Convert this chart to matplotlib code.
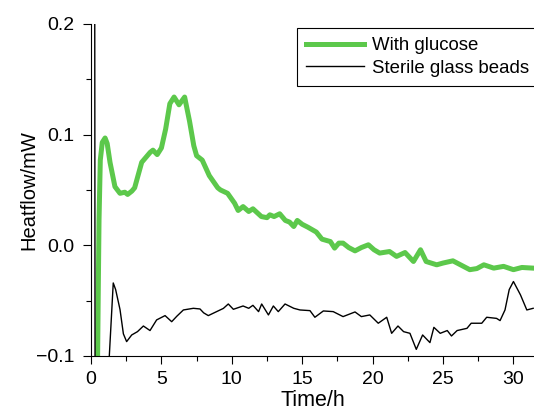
import numpy as np
import matplotlib
matplotlib.use("Agg")
import matplotlib.pyplot as plt
from matplotlib.ticker import MultipleLocator, FuncFormatter

plt.rcParams['font.family'] = ['Liberation Sans', 'DejaVu Sans']

# --- data ---
glucose_t = [0.40, 0.47, 0.52, 0.57, 0.66, 0.80, 1.00, 1.15, 1.35, 1.70, 2.06, 2.40, 2.60,
             2.90, 3.10, 3.60, 4.20, 4.40, 4.70, 5.00, 5.30, 5.60, 5.90, 6.25, 6.65, 7.00,
             7.30, 7.50, 7.90, 8.40, 9.00, 9.20, 9.70, 10.20, 10.45, 10.80, 11.20, 11.50,
             12.10, 12.50, 12.70, 13.00, 13.40, 13.80, 14.10, 14.40, 14.65, 15.00, 15.40,
             16.00, 16.40, 17.00, 17.30, 17.60, 17.90, 18.30, 18.75, 19.20, 19.70, 20.10,
             20.50, 21.20, 21.70, 22.30, 22.90, 23.40, 23.80, 24.55, 25.00, 25.70, 26.30,
             26.90, 27.40, 27.90, 28.60, 29.30, 30.00, 30.60, 31.40]
glucose_hf = [-0.25, -0.10, -0.037, 0.023, 0.077, 0.093, 0.097, 0.092, 0.075, 0.053, 0.047,
              0.048, 0.046, 0.049, 0.052, 0.075, 0.084, 0.086, 0.082, 0.088, 0.105, 0.128,
              0.134, 0.127, 0.134, 0.112, 0.090, 0.081, 0.077, 0.063, 0.052, 0.050, 0.047,
              0.038, 0.0315, 0.035, 0.0306, 0.033, 0.026, 0.025, 0.0276, 0.026, 0.0285,
              0.0225, 0.021, 0.017, 0.0225, 0.019, 0.0164, 0.012, 0.0056, 0.0034, -0.0025,
              0.002, 0.002, -0.002, -0.005, -0.002, 0.0005, -0.004, -0.007, -0.0056, -0.010,
              -0.0065, -0.0146, -0.004, -0.0146, -0.0176, -0.016, -0.014, -0.018, -0.022,
              -0.021, -0.0176, -0.0206, -0.019, -0.022, -0.020, -0.0206]

beads_t = [0.26, 0.30, 1.20, 1.30, 1.58, 1.75, 2.06, 2.30, 2.53, 2.89, 3.30, 3.72, 4.19,
           4.66, 5.26, 5.73, 6.10, 6.56, 7.27, 7.74, 8.00, 8.33, 8.92, 9.40, 9.75, 10.11,
           10.80, 11.20, 11.50, 11.90, 12.12, 12.60, 12.95, 13.30, 13.78, 14.40, 14.84,
           15.55, 15.90, 16.50, 17.20, 17.90, 18.75, 19.20, 19.80, 20.40, 21.00, 21.35,
           21.80, 22.20, 22.65, 23.10, 23.55, 24.07, 24.35, 24.80, 25.30, 25.60, 26.00,
           26.70, 27.00, 27.75, 28.10, 28.80, 29.05, 29.40, 29.70, 30.00, 30.50, 30.95, 31.40]
beads_hf = [0.30, -0.30, -0.30, -0.10, -0.034, -0.040, -0.058, -0.080, -0.087, -0.081,
            -0.078, -0.0729, -0.077, -0.0674, -0.0635, -0.069, -0.064, -0.0584, -0.0569,
            -0.0575, -0.061, -0.0635, -0.0599, -0.057, -0.053, -0.0578, -0.0548, -0.0569,
            -0.0542, -0.0599, -0.053, -0.0629, -0.0548, -0.0599, -0.053, -0.0569, -0.0584,
            -0.059, -0.065, -0.0593, -0.0599, -0.0644, -0.0602, -0.0644, -0.0629, -0.0704,
            -0.065, -0.0795, -0.0729, -0.078, -0.0795, -0.094, -0.081, -0.0879, -0.0741,
            -0.0795, -0.077, -0.0819, -0.077, -0.075, -0.0704, -0.0704, -0.065, -0.066,
            -0.068, -0.0584, -0.040, -0.0327, -0.0448, -0.0584, -0.0569]

fig = plt.figure(figsize=(5.34, 4.13), dpi=100)
ax = fig.add_axes([91 / 534, 57 / 413, 443 / 534, 332 / 413])

ax.plot(glucose_t, glucose_hf, color='#5cc84b', lw=3.6, label='With glucose',
        solid_joinstyle='round')
ax.plot(beads_t, beads_hf, color='black', lw=1.0, label='Sterile glass beads')

ax.set_xlim(0, 31.46)
ax.set_ylim(-0.1, 0.2)
ax.xaxis.set_major_locator(MultipleLocator(5))
ax.xaxis.set_minor_locator(MultipleLocator(2.5))
ax.yaxis.set_major_locator(MultipleLocator(0.1))
ax.yaxis.set_minor_locator(MultipleLocator(0.05))
ax.yaxis.set_major_formatter(FuncFormatter(lambda v, p: f'{v:.1f}'.replace('-', '\u2212')))

ax.tick_params(which='major', direction='out', length=6, width=0.8, labelsize=14)
ax.tick_params(which='minor', direction='out', length=3.5, width=0.8)
ax.tick_params(axis='x', which='major', pad=5)
ax.tick_params(axis='y', which='major', pad=6)
for s in ['top', 'right']:
    ax.spines[s].set_visible(False)

ax.set_xlabel('Time/h', fontsize=15.5, labelpad=1)
ax.set_ylabel('Heatflow/mW', fontsize=14.5, labelpad=-2)

leg = fig.legend(loc='upper left', bbox_to_anchor=(297 / 534, 1 - 28 / 413),
                 fontsize=13.4, frameon=True, fancybox=False, edgecolor='black',
                 framealpha=1, handlelength=3.1, borderaxespad=0, borderpad=0.5,
                 labelspacing=0.3, handletextpad=0.45)
leg.get_frame().set_linewidth(0.8)

fig.savefig('out.png', dpi=100)
